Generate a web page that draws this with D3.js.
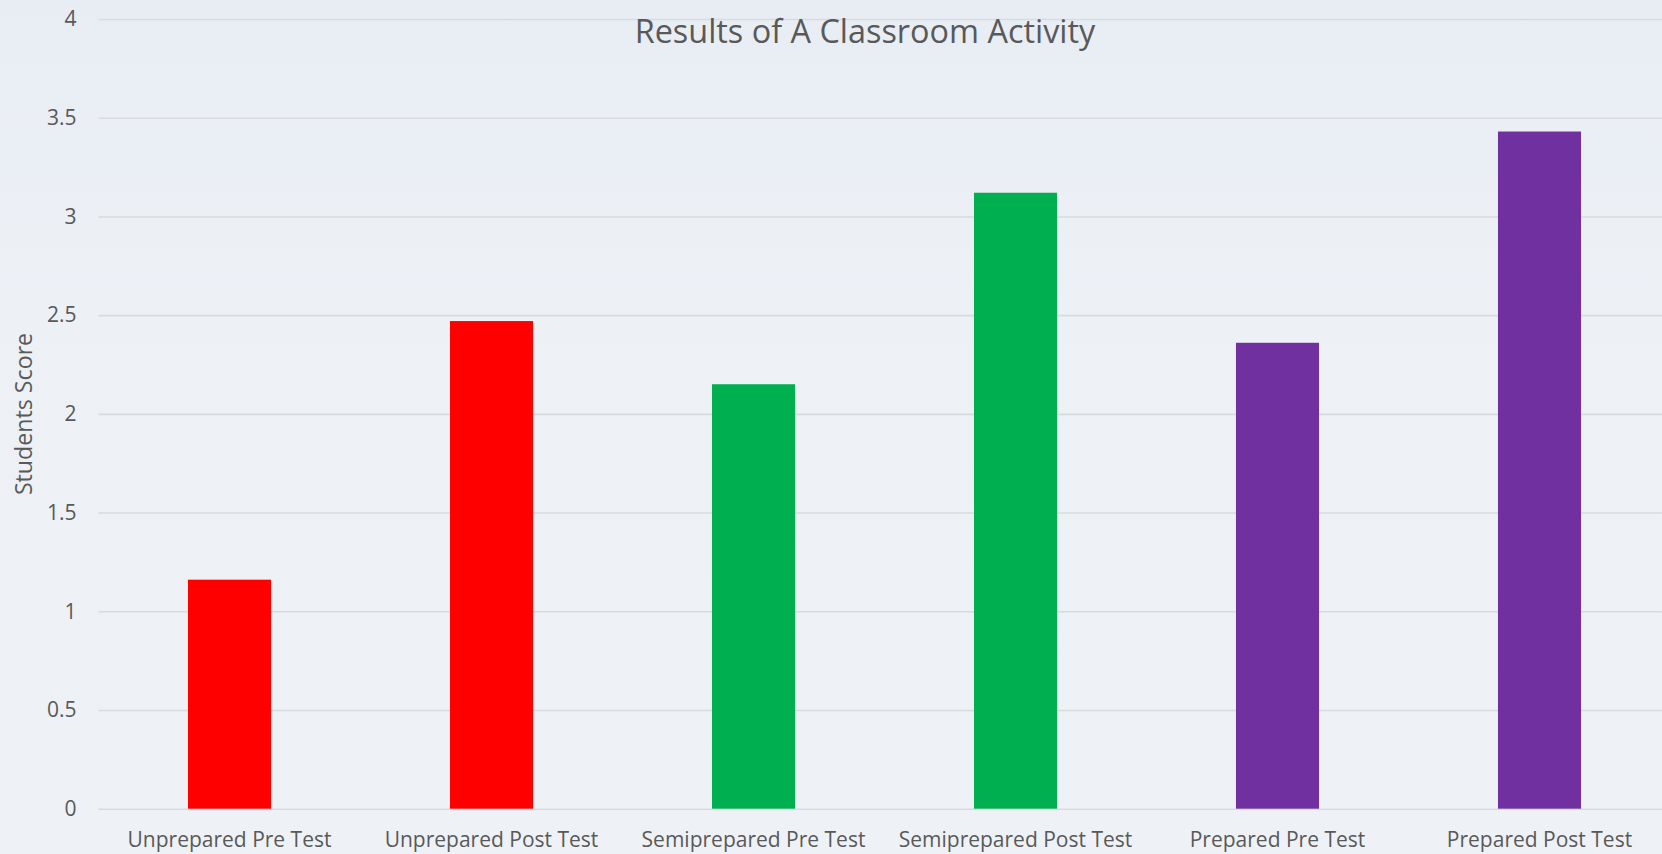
<!DOCTYPE html>
<html>
<head>
<meta charset="utf-8">
<script src="https://cdn.jsdelivr.net/npm/d3@7"></script>
<style>
  html, body { margin: 0; padding: 0; overflow: hidden; }
  body { width: 1662px; height: 854px; }
  text { font-family: "Open Sans", "Noto Sans", sans-serif; }
</style>
</head>
<body>
<svg id="chart" width="1662" height="854"></svg>
<script>
// ---- data ----
const categories = ["Unprepared Pre Test", "Unprepared Post Test", "Semiprepared Pre Test",
                    "Semiprepared Post Test", "Prepared Pre Test", "Prepared Post Test"];
const groups = ["Unprepared", "Unprepared", "Semiprepared", "Semiprepared", "Prepared", "Prepared"];
const scores = [1.16, 2.47, 2.15, 3.12, 2.36, 3.43];
const yTicks = [0, 0.5, 1, 1.5, 2, 2.5, 3, 3.5, 4];
const groupNames = ["Unprepared", "Semiprepared", "Prepared"];
const groupColors = ["#ff0000", "#00b050", "#7030a0"];
const chartTitle = "Results of A Classroom Activity";
const yTitle = "Students Score";

// ---- layout ----
const W = 1662, H = 854;
const mLeft = 98.5, mRight = 1670.5, mTop = 19, mBottom = 808.7;

const svg = d3.select("#chart");

const defs = svg.append("defs");
const grad = defs.append("linearGradient").attr("id", "bg").attr("x1", 0).attr("y1", 0).attr("x2", 0).attr("y2", 1);
grad.append("stop").attr("offset", "0%").attr("stop-color", "#e8edf4");
grad.append("stop").attr("offset", "35%").attr("stop-color", "#edf1f6");
grad.append("stop").attr("offset", "100%").attr("stop-color", "#eef2f6");
svg.append("rect").attr("width", W).attr("height", H).attr("fill", "url(#bg)");

const x = d3.scaleBand().domain(categories).range([mLeft, mRight])
  .paddingInner(0.683).paddingOuter(0.3415);
const y = d3.scaleLinear().domain([0, 4]).range([mBottom, mTop]);
const color = d3.scaleOrdinal().domain(groupNames).range(groupColors);

// y axis + gridlines
const yAxis = svg.append("g")
  .attr("transform", `translate(${mLeft},0)`)
  .call(d3.axisLeft(y).tickValues(yTicks).tickFormat(d3.format("")).tickSize(-(W - mLeft)).tickPadding(22));
yAxis.select(".domain").remove();
yAxis.selectAll(".tick line").attr("stroke", "#d8dadd").attr("stroke-width", 1.6);
yAxis.selectAll(".tick text")
  .attr("fill", "#595959").attr("font-size", 21)
  .attr("font-family", "'Open Sans', sans-serif");

// bars
svg.append("g").selectAll("rect").data(scores).join("rect")
  .attr("x", (d, i) => x(categories[i]))
  .attr("width", x.bandwidth())
  .attr("y", d => y(d))
  .attr("height", d => y(0) - y(d))
  .attr("fill", (d, i) => color(groups[i]));

// x axis labels
const xAxis = svg.append("g")
  .attr("transform", `translate(0,${mBottom})`)
  .call(d3.axisBottom(x).tickSize(0).tickPadding(23.4));
xAxis.select(".domain").remove();
xAxis.selectAll(".tick text")
  .attr("fill", "#595959").attr("font-size", 21)
  .attr("font-family", "'Open Sans', sans-serif");

// title
svg.append("text")
  .attr("x", 865).attr("y", 43)
  .attr("text-anchor", "middle")
  .attr("fill", "#595959").attr("font-size", 32.4)
  .text(chartTitle);

// y axis title
svg.append("text")
  .attr("transform", `translate(32,414) rotate(-90)`)
  .attr("text-anchor", "middle")
  .attr("fill", "#595959").attr("font-size", 23.2)
  .text(yTitle);
</script>
</body>
</html>
